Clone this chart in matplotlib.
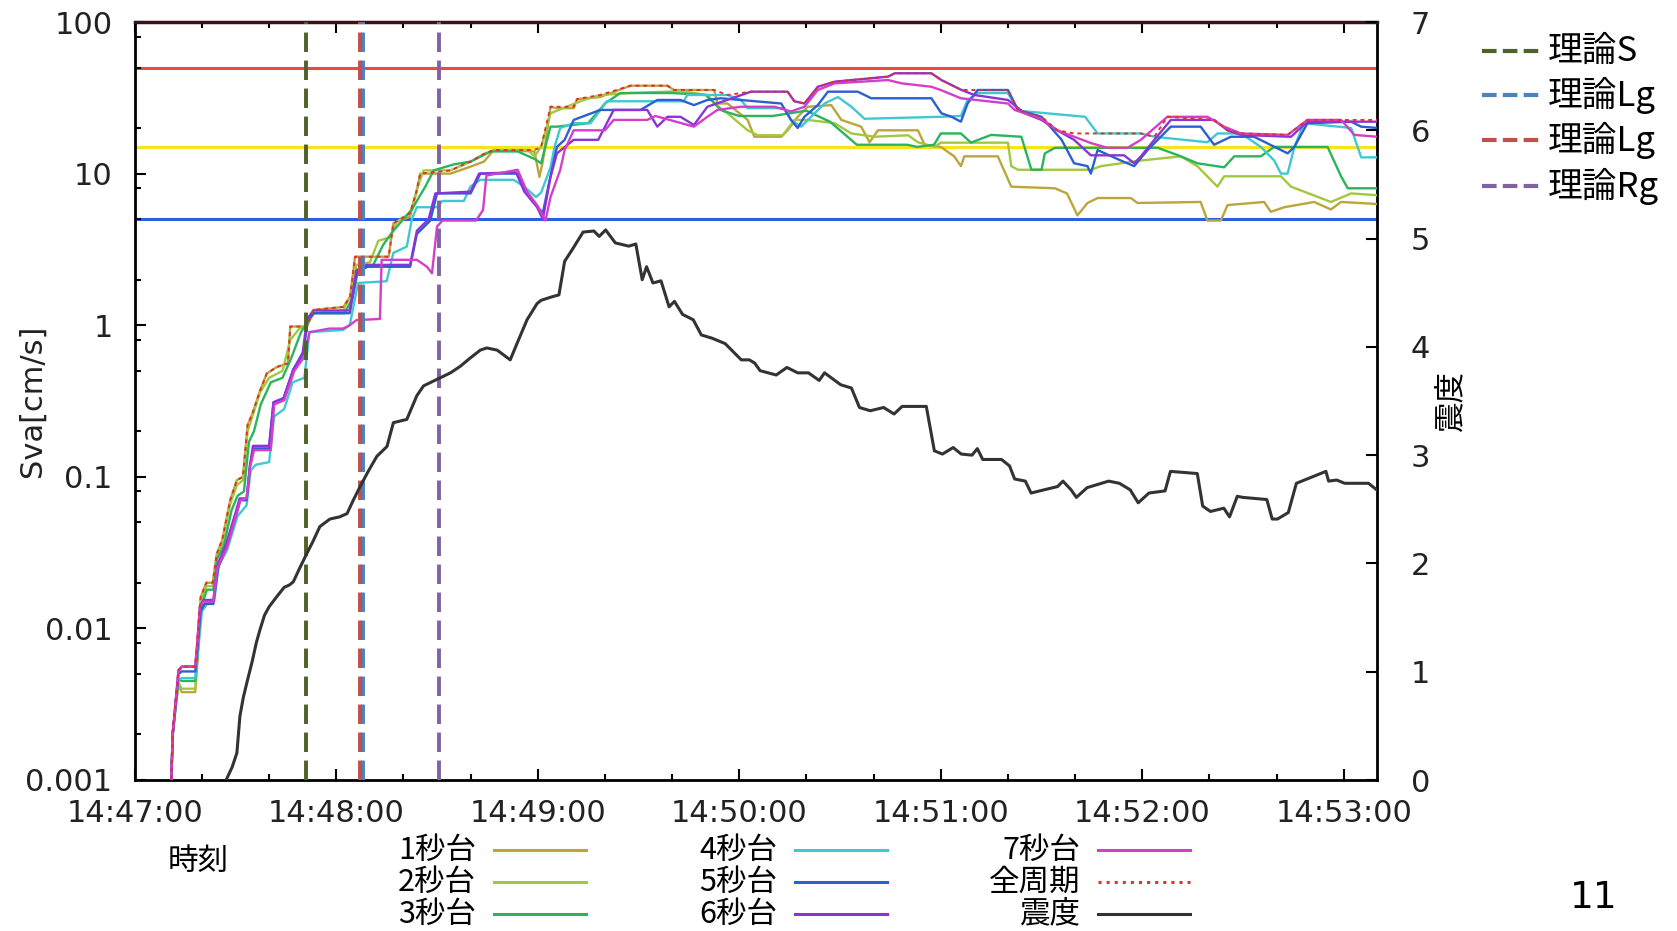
import numpy as np
import matplotlib.pyplot as plt
from matplotlib.lines import Line2D
from matplotlib.ticker import FixedLocator, NullFormatter

plt.rcParams['font.family'] = ['DejaVu Sans']
CJK = ['Noto Sans CJK JP', 'DejaVu Sans']

# x axis in seconds after 14:47:00
time_ticks = [0, 60, 120, 180, 240, 300, 360]
time_labels = ['14:47:00', '14:48:00', '14:49:00', '14:50:00', '14:51:00', '14:52:00', '14:53:00']
sva_ticks = [0.001, 0.01, 0.1, 1, 10, 100]
sva_labels = ['0.001', '0.01', '0.1', '1', '10', '100']
shindo_ticks = [0, 1, 2, 3, 4, 5, 6, 7]

# threshold lines (cm/s)
levels = [50, 15, 5]
level_colors = ['#f0483a', '#f7e41c', '#2a5ee8']

# theoretical arrivals (s after 14:47:00)
arrival_names = ['理論S', '理論Lg', '理論Lg', '理論Rg']
arrival_times = [51, 68, 67, 90.5]
arrival_colors = ['#4f6228', '#4f81bd', '#c0504d', '#8064a2']

# Sva per period band
t1 = [10.8, 11.3, 13, 14, 18, 18.6, 19.6, 21.3, 23.2, 24.4, 26, 28.4, 30.4, 32.2, 33.6, 35, 37.3, 39.3, 42.3, 45.6,
      46.3, 51.2, 53.2, 62.1, 64.1, 65.6, 75.6, 77, 82, 84, 85, 94, 99.9, 104, 106.9, 119, 120.5, 121.5, 123.8,
      125.7, 130.7, 131.7, 138.6, 147.6, 158.6, 160.6, 172.5, 173.5, 176.5, 182.5, 184.5, 192.5, 194.4, 197.4,
      200.4, 207.4, 210.4, 216.3, 218.8, 221.3, 233.2, 235.2, 240, 244, 246, 247, 257, 261, 274, 277.6, 280.7,
      283.7, 286.7, 296.6, 298.6, 317.4, 319.4, 323.4, 325.4, 336.3, 338.3, 342.3, 351.2, 356.2, 359.2, 370.1]
v1 = [0.0009, 0.0021, 0.0042, 0.0038, 0.0038, 0.006, 0.016, 0.020, 0.020, 0.031, 0.038, 0.070, 0.095, 0.10, 0.22,
      0.26, 0.37, 0.48, 0.53, 0.56, 0.98, 0.98, 1.26, 1.32, 1.54, 2.83, 2.83, 4.7, 5.2, 7.8, 10, 10, 11.1, 12,
      14.3, 14, 9.5, 12, 27.6, 27, 27, 31, 32, 38, 38, 35.6, 35.6, 29, 29, 22.6, 17.5, 17.5, 19.3, 23.7, 27.6,
      28.3, 22.6, 20.4, 16.1, 19.3, 19.3, 15.5, 15, 13, 11.2, 13, 13, 8.2, 8, 7.4, 5.3, 6.4, 6.9, 6.9, 6.4, 6.5,
      4.9, 4.9, 6.2, 6.5, 5.6, 6.0, 6.5, 5.8, 6.5, 6.3]

t2 = [10.8, 11.3, 13, 14, 18, 18.6, 19.6, 21.3, 23.2, 24.4, 26, 28.4, 30.4, 32.2, 33.6, 35, 37.3, 40, 44, 46.3,
      49, 51.2, 53.2, 62.1, 64.5, 66, 70, 72.5, 76, 78, 82, 84.5, 86, 94, 100, 104, 107, 117, 119, 121, 123.8,
      125.7, 133.7, 138.6, 147.6, 162.5, 170.5, 173.5, 176.5, 182.5, 185.5, 193, 196.4, 200.4, 208.4, 213.4,
      220.3, 230.3, 233.2, 238.2, 240, 260, 261, 263, 284.7, 287.7, 299.6, 311.5, 316.4, 322.4, 324.4, 341.3,
      344.3, 356.2, 362.2, 370]
v2 = [0.0009, 0.0021, 0.0044, 0.0040, 0.0040, 0.006, 0.015, 0.019, 0.019, 0.030, 0.036, 0.066, 0.088, 0.095,
      0.20, 0.25, 0.36, 0.45, 0.50, 0.80, 0.95, 0.98, 1.2, 1.25, 1.6, 2.5, 2.6, 3.6, 3.8, 4.8, 5.5, 8.5, 10.5,
      10.5, 12, 13.5, 14.3, 14.3, 13, 15, 25, 26, 30.6, 33, 34, 35, 33, 27.6, 25, 19.3, 17.9, 17.9, 22.6, 22.6,
      21.5, 18.4, 17.5, 17.9, 16.1, 15, 16, 16, 11.2, 10.6, 10.6, 11.2, 12.2, 13, 11.2, 8.2, 9.6, 9.6, 8.2, 6.5,
      7.4, 7.2]

t3 = [10.8, 11.3, 13, 14, 18, 18.8, 19.8, 21.5, 23.4, 24.6, 26.5, 28.8, 30.6, 32.5, 34, 35.5, 37.5, 40.5, 44,
      46.5, 49.5, 52, 53.5, 62.5, 64.8, 66.5, 71, 74, 77, 80, 82.5, 86.5, 89, 95, 100, 106, 114, 119, 121, 123.8,
      125.7, 135, 140, 144.6, 160, 170, 175, 180, 190, 200, 207, 210, 215, 230, 233, 238, 240, 246, 249, 255,
      264, 267, 270, 271, 274, 304.6, 311.5, 316.4, 324.4, 327.4, 335.3, 339.3, 355.2, 359.2, 361.2, 370]
v3 = [0.0009, 0.002, 0.0046, 0.0045, 0.0045, 0.007, 0.014, 0.018, 0.018, 0.029, 0.035, 0.06, 0.075, 0.08, 0.17,
      0.2, 0.3, 0.42, 0.45, 0.6, 0.9, 1.1, 1.2, 1.2, 1.5, 2.3, 2.5, 3.4, 4.2, 5.0, 5.8, 8.2, 10.5, 11.5, 12, 14,
      14, 12.5, 11.7, 20.4, 20.4, 21.5, 29, 34, 34, 33, 26, 24, 24, 26, 22, 19.3, 15.5, 15.5, 15, 15.5, 18.4,
      18.4, 16, 18, 17.5, 10.6, 10.6, 13.6, 14.8, 14.8, 13, 11.7, 11, 13, 13, 15, 15, 9.6, 8, 8]

t4 = [10.8, 11.3, 13, 14, 18, 18.8, 20, 22, 23.6, 25, 27.5, 30.6, 33.3, 34.5, 36, 40, 41.5, 44.5, 47, 50.5, 52,
      62, 64, 66.5, 75, 77, 81, 82.5, 84, 90, 91.6, 98, 99.9, 102.9, 112.8, 116, 119.5, 121, 123.8, 125, 126.7,
      130.7, 135.7, 140.6, 163.5, 164.5, 176.5, 180.5, 182.5, 193.4, 195.4, 198.4, 205.4, 209.4, 213.4, 217.3,
      240, 246, 248, 251, 260, 263, 283, 286.7, 299.6, 303.6, 319.4, 322.4, 329.4, 335.3, 339.3, 341.3, 343.3,
      345.3, 348.2, 362.2, 365.2, 370]
v4 = [0.0009, 0.002, 0.0046, 0.0047, 0.0047, 0.007, 0.013, 0.015, 0.015, 0.026, 0.033, 0.055, 0.065, 0.11, 0.12,
      0.125, 0.25, 0.28, 0.42, 0.45, 0.9, 0.93, 1.0, 1.9, 1.95, 3.0, 3.3, 5.0, 6.0, 6.0, 6.6, 6.6, 8.2, 9.1, 9.1,
      8.2, 7.0, 7.5, 11, 15, 20, 21.5, 21.5, 30, 30, 33, 33, 30.6, 27, 27, 22.6, 20.4, 29, 32, 27.6, 23, 23.7,
      24, 30.6, 34, 34, 26, 23.7, 18.4, 18.4, 17.5, 16.1, 18.4, 18.4, 15, 12.2, 10, 10, 15, 21.5, 20, 12.8, 12.8]

t5 = [10.8, 11.3, 13, 14, 18, 18.6, 19.6, 20.8, 23.4, 24.8, 27.4, 30.4, 31.4, 33.3, 34.3, 35.3, 40, 41.3, 44.3,
      47.2, 50.2, 51.5, 53.2, 64, 66.1, 69.1, 82, 84, 88, 90, 100, 102.9, 114, 116, 120, 121.5, 123.5, 125.7, 128,
      130.7, 138.6, 150.6, 155.6, 162.5, 166.5, 170.5, 174.5, 192.5, 195.4, 197.4, 199.4, 203.4, 206.4, 215.3,
      219.3, 237.2, 240.2, 243.2, 246, 248, 251, 260, 263, 270, 276, 279.7, 283.7, 284.7, 286.7, 293.6, 297.6,
      301.6, 308.5, 317.4, 321.4, 326.4, 333.3, 343.3, 345.3, 349.2, 362.2, 365.2, 370]
v5 = [0.0009, 0.002, 0.005, 0.0052, 0.0052, 0.007, 0.013, 0.0145, 0.0145, 0.025, 0.035, 0.058, 0.07, 0.07,
      0.117, 0.154, 0.154, 0.31, 0.33, 0.51, 0.65, 1.08, 1.2, 1.2, 2.2, 2.43, 2.43, 4.0, 4.9, 7.4, 7.4, 10, 10,
      7.9, 6.0, 5.5, 9, 15, 16.7, 22.6, 26.3, 26.3, 30.6, 30.6, 28.3, 30.6, 31.4, 29, 22.6, 20, 23.7, 28.3, 34.7,
      34.7, 31.4, 31.4, 25, 23.7, 22, 29, 35.6, 35.6, 26.3, 23.7, 16.7, 11.7, 11.2, 10, 14.3, 12.2, 11.2, 14.3,
      20.4, 20.4, 15.5, 17.5, 17.5, 13.6, 15, 21.5, 22, 20.4, 20]

t6 = [10.8, 11.3, 13, 14, 18, 18.6, 19.4, 20.4, 23.4, 24.6, 27.2, 30.2, 31.2, 33.3, 34.3, 35.2, 40, 41.3, 44.3,
      47.2, 50, 51.3, 53.2, 64, 66, 69, 82, 84, 87.5, 89.5, 100, 102.5, 113.5, 116, 119.8, 121.5, 123.8, 125.7,
      130.7, 138, 142.6, 152.6, 155.6, 158.6, 162.5, 166.5, 170.5, 183.5, 194.4, 196.4, 199.4, 203.4, 208.4,
      224.3, 226.3, 237.2, 240.2, 246.2, 250, 260, 265, 270, 274.7, 279.7, 284.7, 294.6, 297.6, 299.6, 303.6,
      308.5, 321.4, 325.4, 329.4, 344.3, 349.2, 370]
v6 = [0.0009, 0.002, 0.0052, 0.0056, 0.0056, 0.008, 0.014, 0.0154, 0.0154, 0.026, 0.036, 0.06, 0.072, 0.072,
      0.12, 0.16, 0.16, 0.31, 0.33, 0.51, 0.66, 1.1, 1.25, 1.25, 2.3, 2.5, 2.5, 4.2, 5.0, 7.4, 7.6, 10, 10.2,
      7.6, 6.0, 5.0, 9.5, 13.6, 16.7, 16.7, 26.3, 26.3, 20.4, 23.7, 23.7, 20.9, 27.6, 34.7, 34.7, 30, 29, 37.4,
      40.4, 43.6, 45.9, 45.9, 41.4, 35.6, 33, 30.6, 25, 22.6, 19.3, 16.7, 13.2, 13.2, 11.7, 13, 16.7, 22.6, 22.6,
      19.3, 18, 17.5, 22, 22]

t7 = [10.8, 11.3, 13, 14, 18, 18.6, 19.4, 20.4, 23.4, 24.6, 27.4, 30.4, 31.4, 33.3, 34.3, 35.5, 40.5, 41.5,
      44.5, 47.5, 50.5, 52, 58, 62, 64, 66, 73, 73.5, 84, 87, 88.5, 90, 91.6, 101.6, 103.7, 104.7, 114, 116.8,
      119.8, 122.3, 123.8, 126.7, 128, 130.7, 140, 142.6, 152.6, 155, 166.5, 170.5, 173.5, 180.5, 190.5, 195.4,
      199.4, 203.4, 208.4, 224.3, 228.3, 237.2, 240, 246, 260, 262, 270, 274.7, 284.7, 289.6, 295.6, 299.6,
      307.5, 319.4, 324.4, 329.4, 343.3, 349.2, 359.2, 363.2, 370]
v7 = [0.0009, 0.002, 0.0053, 0.0056, 0.0056, 0.008, 0.014, 0.015, 0.015, 0.025, 0.034, 0.058, 0.07, 0.072,
      0.115, 0.15, 0.15, 0.30, 0.32, 0.50, 0.62, 0.9, 0.95, 0.95, 1.0, 1.08, 1.1, 2.7, 2.7, 2.43, 2.2, 4.47, 4.9,
      4.9, 5.75, 9.7, 10.6, 7.6, 6.2, 4.9, 7.0, 10.6, 14.3, 19.3, 19.3, 22.6, 22.6, 24, 20.4, 23.7, 26.3, 27.6,
      27.6, 25.7, 27.6, 35.6, 39.4, 41.4, 39.4, 37.4, 35.6, 31.4, 29, 26.3, 23, 19.3, 15.9, 14.8, 14.8, 16.7,
      23.7, 23.7, 20.4, 18.4, 18, 22.6, 22.6, 18, 17.5]

t_all = [10.8, 11.3, 13, 14, 18, 18.6, 19.6, 21.3, 23.2, 24.4, 26, 28.4, 30.4, 32.2, 33.6, 35, 37.3, 39.3, 42.3,
         45.6, 46.3, 51.2, 53.2, 62.1, 64.1, 65.6, 75.6, 77, 82, 84, 85, 94, 100, 104, 106.9, 119, 121, 123.8,
         130.7, 131.7, 138.6, 147.6, 158.6, 160.6, 172.5, 176.5, 183.5, 194.4, 196.4, 199.4, 203.4, 208.4, 224.3,
         226.3, 237.2, 240.2, 246.2, 251, 260, 263, 270, 274.7, 279.7, 299.6, 303.6, 307.5, 321.4, 325.4, 329.4,
         343.3, 349.2, 370]
v_all = [0.0009, 0.0021, 0.0053, 0.0056, 0.0056, 0.008, 0.016, 0.020, 0.020, 0.031, 0.038, 0.07, 0.095, 0.10,
         0.22, 0.26, 0.37, 0.48, 0.53, 0.56, 0.98, 0.98, 1.26, 1.32, 1.54, 2.83, 2.83, 4.7, 5.5, 7.8, 10, 10.5, 12,
         13.5, 14.3, 14.3, 15, 27.6, 27.6, 31, 33, 38, 38, 35.6, 35.6, 33, 34.7, 34.7, 30, 29, 37.4, 40.4, 43.6,
         45.9, 45.9, 41.4, 35.6, 35.6, 35.6, 26.3, 23.7, 19.3, 18.4, 18.4, 17.5, 23.7, 22.6, 19.3, 18.4, 18, 22.6,
         22.6]

# seismic intensity (right axis)
t_shindo = [27.2, 29, 30.4, 31.3, 32.3, 33.3, 35, 36.2, 37.3, 38.6, 40, 42.2, 44.5, 46, 47.2, 49, 51.2, 53, 55.1,
            58.1, 61, 63.2, 65, 67.1, 69.5, 72.1, 75.1, 77, 81, 84, 86, 90, 94, 96.9, 100, 102.9, 104.8, 107.9,
            111.8, 113.8, 116.8, 119.8, 121, 124, 126.3, 128, 130.3, 133.5, 136.7, 138.3, 140.2, 143.1, 147.1,
            149.2, 151.1, 152.4, 154.3, 156.7, 159.1, 160.7, 163.1, 166.3, 168.7, 171.9, 175.8, 180.6, 183, 184.6,
            186.2, 191, 194.2, 197.4, 200.6, 203.8, 205.4, 210.2, 213.4, 215.8, 219, 223, 226.1, 228.5, 235.7,
            238.1, 240.5, 243.7, 246.1, 249.3, 250.9, 252.5, 258.1, 260.5, 262, 265.2, 266.9, 270.8, 274.8, 276.4,
            278.8, 280.4, 283.6, 290, 293.2, 296.4, 298.8, 302, 306.8, 308.4, 316.4, 318, 320.3, 324.3, 326,
            328.3, 329.9, 337.1, 338.7, 340.3, 343.5, 345.9, 350.7, 354.7, 355.5, 357.9, 360.3, 367.4, 370.6]
shindo = [0.0, 0.12, 0.25, 0.59, 0.76, 0.89, 1.1, 1.27, 1.39, 1.52, 1.6, 1.69, 1.78, 1.8, 1.83, 1.95, 2.09, 2.2,
          2.34, 2.41, 2.43, 2.46, 2.58, 2.71, 2.85, 2.99, 3.08, 3.30, 3.33, 3.55, 3.64, 3.70, 3.76, 3.82, 3.9,
          3.97, 3.99, 3.97, 3.88, 4.03, 4.25, 4.40, 4.43, 4.46, 4.48, 4.79, 4.90, 5.06, 5.07, 5.02, 5.08, 4.96,
          4.93, 4.95, 4.62, 4.74, 4.59, 4.61, 4.37, 4.42, 4.30, 4.25, 4.11, 4.08, 4.03, 3.88, 3.88, 3.85, 3.78,
          3.74, 3.81, 3.76, 3.76, 3.69, 3.76, 3.65, 3.62, 3.44, 3.41, 3.44, 3.38, 3.45, 3.45, 3.04, 3.01, 3.07,
          3.01, 3.00, 3.06, 2.96, 2.96, 2.90, 2.78, 2.76, 2.65, 2.68, 2.71, 2.76, 2.68, 2.61, 2.70, 2.76, 2.74,
          2.68, 2.56, 2.65, 2.67, 2.85, 2.83, 2.53, 2.48, 2.51, 2.43, 2.62, 2.61, 2.59, 2.41, 2.41, 2.47, 2.74,
          2.80, 2.85, 2.76, 2.77, 2.74, 2.74, 2.66]

series = [
    ('1秒台', t1, v1, '#bca53a'),
    ('2秒台', t2, v2, '#a2c83e'),
    ('3秒台', t3, v3, '#2cb45c'),
    ('4秒台', t4, v4, '#40c8d2'),
    ('5秒台', t5, v5, '#2a60d0'),
    ('6秒台', t6, v6, '#8a34d8'),
    ('7秒台', t7, v7, '#d43ec8'),
]

W, H = 1677, 931
fig = plt.figure(figsize=(W / 100, H / 100), dpi=100)
ax = fig.add_axes([134.8 / W, 1 - 780 / H, 1242.5 / W, 758 / H])

for lv, c in zip(levels, level_colors):
    ax.axhline(lv, color=c, lw=2.2, zorder=1)

for name, t, v, c in series:
    ax.plot(t, v, color=c, lw=1.7, zorder=3)
ax.plot(t_all, v_all, color='#e03030', lw=1.4, ls=(0, (2, 2)), zorder=4)

for tt, c in zip(arrival_times, arrival_colors):
    ax.axvline(tt, color=c, lw=2.8, ls=(0, (5, 2.2)), zorder=5)

ax.set_yscale('log')
ax.set_ylim(0.001, 100)
ax.set_xlim(0, 370)
ax.set_xticks(time_ticks)
ax.set_xticklabels(time_labels)
ax.xaxis.set_minor_locator(FixedLocator(np.arange(0, 371, 20)))
ax.set_yticks(sva_ticks)
ax.set_yticklabels(sva_labels)
ax.yaxis.set_minor_locator(FixedLocator([m * 10.0 ** e for e in range(-3, 2) for m in (2, 5, 8)]))
ax.yaxis.set_minor_formatter(NullFormatter())
ax.tick_params(which='both', direction='in', top=True, right=False, labelsize=22, width=1.5,
               labelcolor='#222222')
ax.tick_params(which='major', length=8)
ax.tick_params(which='minor', length=4)
ax.tick_params(axis='y', pad=16)
ax.tick_params(axis='x', pad=14)
for s in ['left', 'bottom', 'right']:
    ax.spines[s].set_linewidth(2)
ax.spines['top'].set_linewidth(2.5)
ax.spines['top'].set_color('#3a1414')

ax.set_ylabel('Sva[cm/s]', fontsize=22, color='#222222')
ax.yaxis.set_label_coords(-0.0707, 0.5)

ax2 = ax.twinx()
ax2.plot(t_shindo, shindo, color='#333333', lw=2.2)
ax2.set_ylim(0, 7)
ax2.set_yticks(shindo_ticks)
ax2.tick_params(direction='in', length=8, width=1.5, labelsize=22, pad=24, labelcolor='#222222')
for s in ax2.spines.values():
    s.set_visible(False)
ax2.set_ylabel('震度', family=CJK, fontsize=22)
ax2.yaxis.set_label_coords(1.047, 0.5)

# x label (gnuplot style, below the first tick labels)
fig.text(198 / W, 1 - 861 / H, '時刻', family=CJK, fontsize=22, ha='center', va='center')

# bottom legend: label right-aligned, sample to the right
legend_items = [(n, c, '-') for n, _, _, c in series] + [('全周期', '#e03030', ':'), ('震度', '#333333', '-')]
col_right = [476, 777, 1080]
row_y = [850, 882, 914]
for i, (name, c, ls) in enumerate(legend_items):
    col, row = divmod(i, 3)
    y = 1 - row_y[row] / H
    fig.text(col_right[col] / W, y, name, family=CJK, fontsize=22, ha='right', va='center')
    x0 = col_right[col] + 18
    fig.add_artist(Line2D([x0 / W, (x0 + 92) / W], [y, y], color=c, lw=2.2, ls=ls))

# right legend: theoretical arrivals
leg_y = [51, 95, 140, 186]
for name, c, yy in zip(arrival_names, arrival_colors, leg_y):
    y = 1 - yy / H
    fig.add_artist(Line2D([1482 / W, 1542 / W], [y, y], color=c, lw=3, ls=(0, (3.5, 1.5))))
    fig.text(1548 / W, y, name, family=CJK, fontsize=25, ha='left', va='center')

# page number
fig.text(1594 / W, 1 - 898 / H, '11', fontsize=27, ha='center', va='center')

fig.savefig('out.png', dpi=100)
